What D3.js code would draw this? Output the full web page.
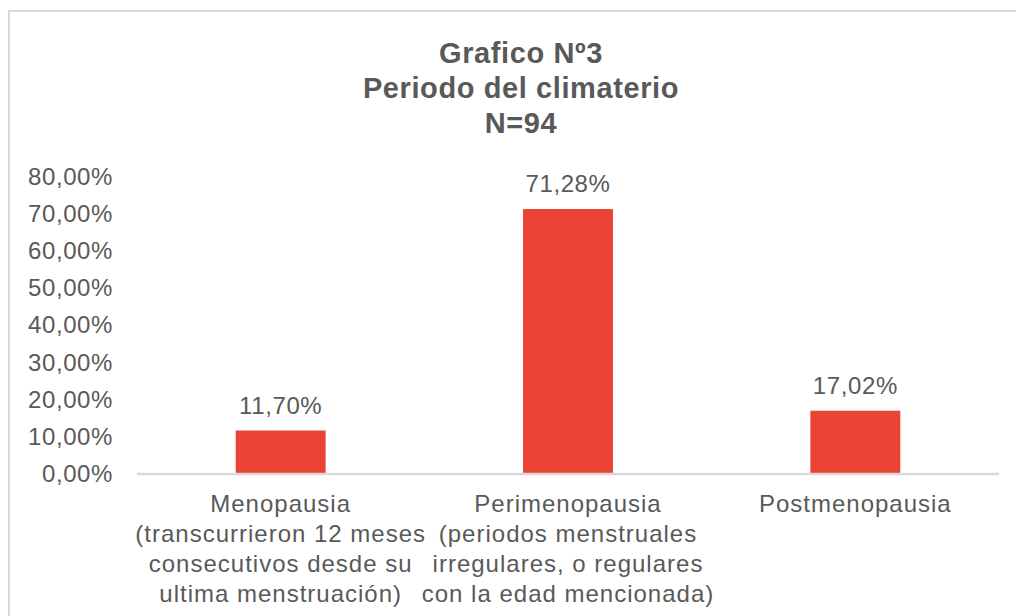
<!DOCTYPE html>
<html><head><meta charset="utf-8">
<script src="https://cdn.jsdelivr.net/npm/d3@7"></script>
<style>body{margin:0;background:#fff}svg{display:block}</style>
</head><body>
<svg id="c" width="1016" height="616"></svg>
<script>
const titleLines = ["Grafico Nº3", "Periodo del climaterio", "N=94"];
const categories = ["Menopausia", "Perimenopausia", "Postmenopausia"];
const categoryLines = [
  ["Menopausia", "(transcurrieron 12 meses", "consecutivos desde su", "ultima menstruación)"],
  ["Perimenopausia", "(periodos menstruales", "irregulares, o regulares", "con la edad mencionada)"],
  ["Postmenopausia"]
];
const values = [11.70, 71.28, 17.02];
const yTicks = [0, 10, 20, 30, 40, 50, 60, 70, 80];

const svg = d3.select("#c");
const textColor = "#595959";
const font = "'Liberation Sans', Arial, sans-serif";
const fmt = v => v.toFixed(2).replace(".", ",") + "%";

// frame
svg.append("rect").attr("x", 9).attr("y", 11).attr("width", 1030).attr("height", 640)
  .attr("fill", "none").attr("stroke", "#d9d9d9").attr("stroke-width", 2);

// title
svg.append("g").selectAll("text").data(titleLines).join("text")
  .attr("x", 521).attr("y", (d, i) => 63 + i * 35)
  .attr("text-anchor", "middle").attr("font-family", font).attr("font-weight", "bold")
  .attr("font-size", 29).attr("letter-spacing", 0.6).attr("fill", textColor).text(d => d);

const x = d3.scaleBand().domain(categories).range([137, 999]).paddingInner(0.687).paddingOuter(0.3435);
const y = d3.scaleLinear().domain([0, 80]).range([474, 176.6]);

// y axis labels
const yAxis = d3.axisLeft(y).tickValues(yTicks).tickFormat(d => d.toFixed(2).replace(".", ",") + "%").tickSize(0).tickPadding(0);
const ya = svg.append("g").attr("transform", "translate(113,0)").call(yAxis);
ya.select(".domain").remove();
ya.selectAll("text").attr("font-family", font).attr("font-size", 24).attr("letter-spacing", 0.6).attr("fill", textColor);

// bars
svg.append("g").selectAll("rect").data(values).join("rect")
  .attr("x", (d, i) => x(categories[i])).attr("width", x.bandwidth())
  .attr("y", d => y(d)).attr("height", d => y(0) - y(d)).attr("fill", "#EA4335");

// baseline
svg.append("line").attr("x1", 137).attr("x2", 999).attr("y1", y(0)).attr("y2", y(0))
  .attr("stroke", "#d9d9d9").attr("stroke-width", 2.5);

// data labels
svg.append("g").selectAll("text").data(values).join("text")
  .attr("x", (d, i) => x(categories[i]) + x.bandwidth() / 2).attr("y", d => y(d) - 17)
  .attr("text-anchor", "middle").attr("font-family", font).attr("font-size", 24).attr("letter-spacing", 0.6)
  .attr("fill", textColor).text(d => fmt(d));

// category labels
const cg = svg.append("g").selectAll("text").data(categories).join("text")
  .attr("text-anchor", "middle").attr("font-family", font).attr("font-size", 24)
  .attr("letter-spacing", 1).attr("fill", textColor);
cg.each(function(d, i) {
  const cx = x(d) + x.bandwidth() / 2;
  d3.select(this).selectAll("tspan").data(categoryLines[i]).join("tspan")
    .attr("x", cx).attr("y", (t, j) => 512 + j * 30).text(t => t);
});
</script>
</body></html>
